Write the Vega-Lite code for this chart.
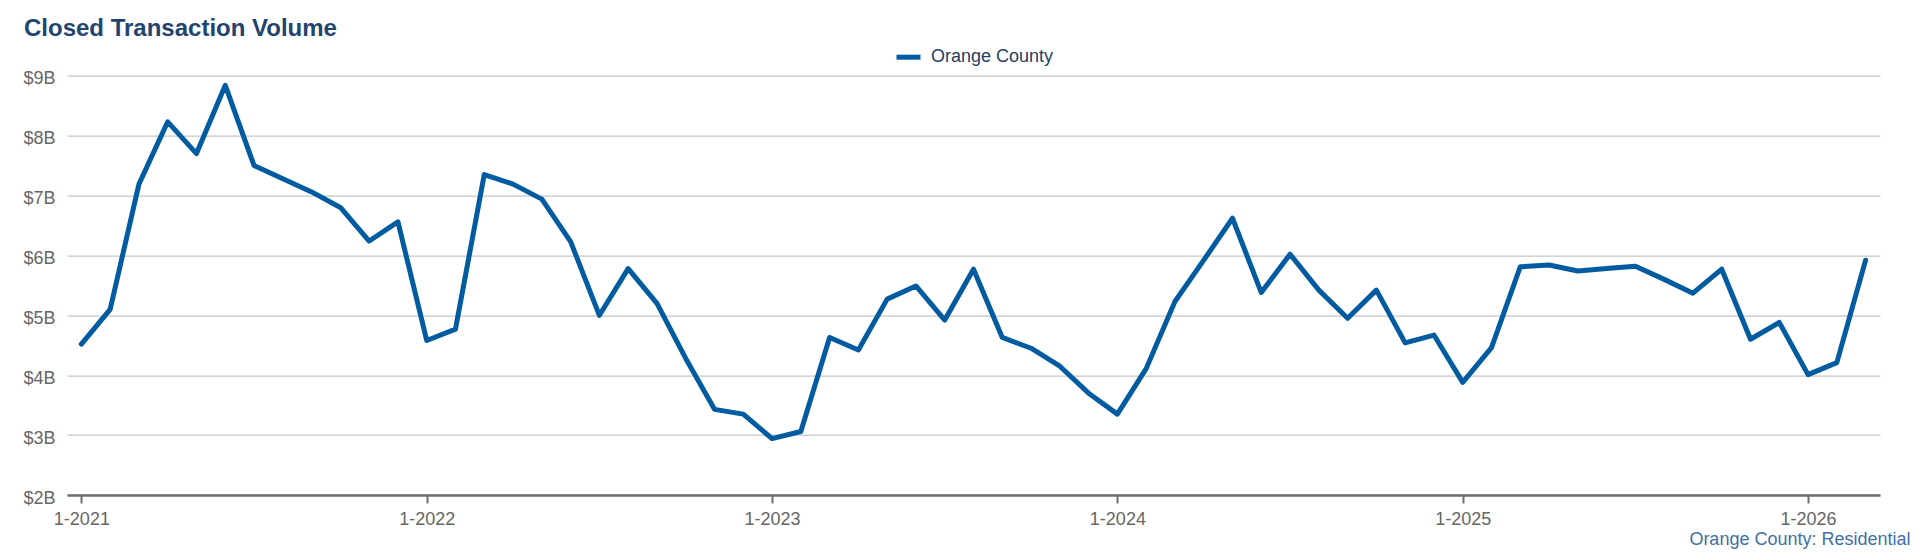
{
  "$schema": "https://vega.github.io/schema/vega-lite/v6.json",
  "autosize": {"type": "none"},
  "width": 1813,
  "height": 419.3,
  "padding": {"left": 67, "top": 75.7, "right": 40, "bottom": 65},
  "background": "#ffffff",
  "config": {
    "view": {"stroke": null},
    "font": "Liberation Sans"
  },
  "title": {
    "text": "Closed Transaction Volume",
    "anchor": "start",
    "frame": "group",
    "dx": -43,
    "dy": 27,
    "offset": 10,
    "baseline": "alphabetic",
    "font": "Liberation Sans",
    "fontSize": 24,
    "fontWeight": "bold",
    "color": "#1f4470"
  },
  "data": {
    "values": [
      {"month": "1-2021", "volume": 4.52, "series": "Orange County"},
      {"month": "2-2021", "volume": 5.10, "series": "Orange County"},
      {"month": "3-2021", "volume": 7.19, "series": "Orange County"},
      {"month": "4-2021", "volume": 8.23, "series": "Orange County"},
      {"month": "5-2021", "volume": 7.70, "series": "Orange County"},
      {"month": "6-2021", "volume": 8.84, "series": "Orange County"},
      {"month": "7-2021", "volume": 7.50, "series": "Orange County"},
      {"month": "8-2021", "volume": 7.28, "series": "Orange County"},
      {"month": "9-2021", "volume": 7.06, "series": "Orange County"},
      {"month": "10-2021", "volume": 6.80, "series": "Orange County"},
      {"month": "11-2021", "volume": 6.24, "series": "Orange County"},
      {"month": "12-2021", "volume": 6.56, "series": "Orange County"},
      {"month": "1-2022", "volume": 4.58, "series": "Orange County"},
      {"month": "2-2022", "volume": 4.77, "series": "Orange County"},
      {"month": "3-2022", "volume": 7.35, "series": "Orange County"},
      {"month": "4-2022", "volume": 7.19, "series": "Orange County"},
      {"month": "5-2022", "volume": 6.94, "series": "Orange County"},
      {"month": "6-2022", "volume": 6.23, "series": "Orange County"},
      {"month": "7-2022", "volume": 5.00, "series": "Orange County"},
      {"month": "8-2022", "volume": 5.78, "series": "Orange County"},
      {"month": "9-2022", "volume": 5.20, "series": "Orange County"},
      {"month": "10-2022", "volume": 4.28, "series": "Orange County"},
      {"month": "11-2022", "volume": 3.43, "series": "Orange County"},
      {"month": "12-2022", "volume": 3.35, "series": "Orange County"},
      {"month": "1-2023", "volume": 2.94, "series": "Orange County"},
      {"month": "2-2023", "volume": 3.06, "series": "Orange County"},
      {"month": "3-2023", "volume": 4.63, "series": "Orange County"},
      {"month": "4-2023", "volume": 4.42, "series": "Orange County"},
      {"month": "5-2023", "volume": 5.27, "series": "Orange County"},
      {"month": "6-2023", "volume": 5.49, "series": "Orange County"},
      {"month": "7-2023", "volume": 4.92, "series": "Orange County"},
      {"month": "8-2023", "volume": 5.77, "series": "Orange County"},
      {"month": "9-2023", "volume": 4.63, "series": "Orange County"},
      {"month": "10-2023", "volume": 4.45, "series": "Orange County"},
      {"month": "11-2023", "volume": 4.15, "series": "Orange County"},
      {"month": "12-2023", "volume": 3.70, "series": "Orange County"},
      {"month": "1-2024", "volume": 3.35, "series": "Orange County"},
      {"month": "2-2024", "volume": 4.11, "series": "Orange County"},
      {"month": "3-2024", "volume": 5.23, "series": "Orange County"},
      {"month": "4-2024", "volume": 5.92, "series": "Orange County"},
      {"month": "5-2024", "volume": 6.62, "series": "Orange County"},
      {"month": "6-2024", "volume": 5.38, "series": "Orange County"},
      {"month": "7-2024", "volume": 6.02, "series": "Orange County"},
      {"month": "8-2024", "volume": 5.42, "series": "Orange County"},
      {"month": "9-2024", "volume": 4.95, "series": "Orange County"},
      {"month": "10-2024", "volume": 5.42, "series": "Orange County"},
      {"month": "11-2024", "volume": 4.54, "series": "Orange County"},
      {"month": "12-2024", "volume": 4.67, "series": "Orange County"},
      {"month": "1-2025", "volume": 3.88, "series": "Orange County"},
      {"month": "2-2025", "volume": 4.46, "series": "Orange County"},
      {"month": "3-2025", "volume": 5.81, "series": "Orange County"},
      {"month": "4-2025", "volume": 5.84, "series": "Orange County"},
      {"month": "5-2025", "volume": 5.74, "series": "Orange County"},
      {"month": "6-2025", "volume": 5.78, "series": "Orange County"},
      {"month": "7-2025", "volume": 5.82, "series": "Orange County"},
      {"month": "8-2025", "volume": 5.60, "series": "Orange County"},
      {"month": "9-2025", "volume": 5.37, "series": "Orange County"},
      {"month": "10-2025", "volume": 5.77, "series": "Orange County"},
      {"month": "11-2025", "volume": 4.60, "series": "Orange County"},
      {"month": "12-2025", "volume": 4.88, "series": "Orange County"},
      {"month": "1-2026", "volume": 4.01, "series": "Orange County"},
      {"month": "2-2026", "volume": 4.21, "series": "Orange County"},
      {"month": "3-2026", "volume": 5.92, "series": "Orange County"}
    ]
  },
  "mark": {"type": "line", "strokeWidth": 5, "strokeCap": "round", "strokeJoin": "round"},
  "encoding": {
    "x": {
      "field": "month",
      "type": "ordinal",
      "sort": null,
      "scale": {"type": "point", "padding": 0.5},
      "axis": {
        "values": ["1-2021", "1-2022", "1-2023", "1-2024", "1-2025", "1-2026"],
        "labelAngle": 0,
        "labelFont": "Liberation Sans",
        "labelFontSize": 18,
        "labelColor": "#666666",
        "labelPadding": 7,
        "domainColor": "#6e6e6e",
        "domainWidth": 2.5,
        "tickColor": "#6e6e6e",
        "tickSize": 8,
        "tickWidth": 2,
        "grid": false,
        "title": "Orange County: Residential",
        "titleFont": "Liberation Sans",
        "titleFontSize": 18,
        "titleFontWeight": "normal",
        "titleColor": "#3f6fa6",
        "titleAnchor": "end",
        "titleAlign": "right",
        "titleBaseline": "middle",
        "titleX": 1843,
        "titleY": 44,
        "zindex": 1
      }
    },
    "y": {
      "field": "volume",
      "type": "quantitative",
      "scale": {"domain": [2, 9], "nice": false, "zero": false},
      "axis": {
        "values": [2, 3, 4, 5, 6, 7, 8, 9],
        "labelExpr": "'$' + datum.value + 'B'",
        "grid": true,
        "gridColor": "#c6c6c6",
        "gridWidth": 1.2,
        "domain": false,
        "ticks": false,
        "tickSize": 0,
        "labelPadding": 12,
        "labelOffset": 3,
        "labelFont": "Liberation Sans",
        "labelFontSize": 18,
        "labelColor": "#666666",
        "title": null
      }
    },
    "color": {
      "field": "series",
      "type": "nominal",
      "scale": {"domain": ["Orange County"], "range": ["#005ba1"]},
      "legend": {
        "title": null,
        "orient": "none",
        "legendX": 827,
        "legendY": -33,
        "padding": 0,
        "symbolType": "stroke",
        "symbolSize": 576,
        "symbolStrokeWidth": 5,
        "labelOffset": 8,
        "labelFont": "Liberation Sans",
        "labelFontSize": 18,
        "labelColor": "#24405f"
      }
    }
  }
}
